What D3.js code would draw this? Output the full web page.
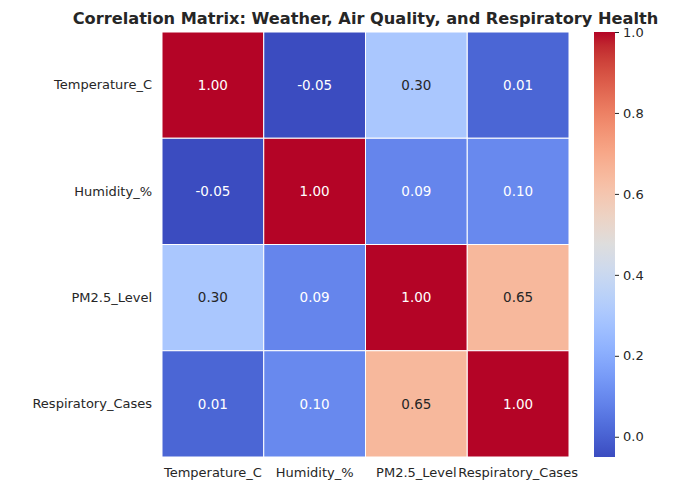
<!DOCTYPE html>
<html>
<head>
<meta charset="utf-8">
<script src="https://cdn.jsdelivr.net/npm/d3@7"></script>
<style>
  body { margin: 0; background: #fff; }
  text { font-family: "DejaVu Sans", sans-serif; fill: #262626; }
</style>
</head>
<body>
<div id="chart"></div>
<script>
// variables shown on both axes
var variables = ["Temperature_C", "Humidity_%", "PM2.5_Level", "Respiratory_Cases"];

// correlation values, one row per variable
var rowTemperature = [1.00, -0.05, 0.30, 0.01];
var rowHumidity = [-0.05, 1.00, 0.09, 0.10];
var rowPM25 = [0.30, 0.09, 1.00, 0.65];
var rowRespiratory = [0.01, 0.10, 0.65, 1.00];
var matrix = [rowTemperature, rowHumidity, rowPM25, rowRespiratory];

var colorbarTicks = [0.0, 0.2, 0.4, 0.6, 0.8, 1.0];

// matplotlib "coolwarm" (Moreland) control points
var coolwarm = [
  [59,76,192],[68,90,204],[77,104,215],[87,117,225],[98,130,234],[108,142,241],
  [119,154,247],[130,165,251],[141,176,254],[152,185,255],[163,194,255],[174,201,253],
  [184,208,249],[194,213,244],[204,217,238],[213,219,230],[221,221,221],[229,216,209],
  [236,211,197],[241,204,185],[245,196,173],[247,187,160],[247,177,148],[247,166,135],
  [244,154,123],[241,141,111],[236,127,99],[229,112,88],[222,96,77],[213,80,66],
  [203,62,56],[192,40,47],[180,4,38]
].map(function (c) { return d3.rgb(c[0], c[1], c[2]); });
var coolwarmInterp = d3.piecewise(d3.interpolateRgb, coolwarm);

var W = 700, H = 483;
var margin = { top: 32, left: 162, right: 131, bottom: 26 };
var width = W - margin.left - margin.right;
var height = H - margin.top - margin.bottom;

var svg = d3.select("#chart").append("svg")
  .attr("width", W)
  .attr("height", H);

var cells = [];
matrix.forEach(function (row, i) {
  row.forEach(function (v, j) {
    cells.push({ row: variables[i], col: variables[j], value: v });
  });
});

var ext = d3.extent(cells, function (d) { return d.value; });
var color = d3.scaleSequential(coolwarmInterp).domain(ext);

var x = d3.scaleBand().domain(variables).range([0, width]);
var y = d3.scaleBand().domain(variables).range([0, height]);

var g = svg.append("g")
  .attr("transform", "translate(" + margin.left + "," + margin.top + ")");

g.selectAll("rect.cell")
  .data(cells)
  .enter()
  .append("rect")
  .attr("class", "cell")
  .attr("x", function (d) { return x(d.col); })
  .attr("y", function (d) { return y(d.row); })
  .attr("width", x.bandwidth())
  .attr("height", y.bandwidth())
  .attr("fill", function (d) { return color(d.value); })
  .attr("stroke", "#fff")
  .attr("stroke-width", 1);

// seaborn picks text colour from the cell luminance
function lum(c) {
  var f = function (v) { v /= 255; return v <= 0.03928 ? v / 12.92 : Math.pow((v + 0.055) / 1.055, 2.4); };
  var r = d3.rgb(c);
  return 0.2126 * f(r.r) + 0.7152 * f(r.g) + 0.0722 * f(r.b);
}

g.selectAll("text.annot")
  .data(cells)
  .enter()
  .append("text")
  .attr("class", "annot")
  .attr("x", function (d) { return x(d.col) + x.bandwidth() / 2; })
  .attr("y", function (d) { return y(d.row) + y.bandwidth() / 2; })
  .attr("text-anchor", "middle")
  .attr("dy", "0.35em")
  .style("font-size", "13.5px")
  .style("fill", function (d) { return lum(color(d.value)) > 0.408 ? "#262626" : "#ffffff"; })
  .text(function (d) { return d.value.toFixed(2); });

// axis labels (no tick marks, like seaborn's whitegrid heatmap)
var xAxis = g.append("g")
  .attr("transform", "translate(0," + height + ")")
  .call(d3.axisBottom(x).tickSize(0).tickPadding(11));
var yAxis = g.append("g")
  .call(d3.axisLeft(y).tickSize(0).tickPadding(10));
[xAxis, yAxis].forEach(function (a) {
  a.select(".domain").remove();
  a.selectAll("text").style("font-size", "13px").style("fill", "#262626")
    .attr("font-family", null);
});

// title
svg.append("text")
  .attr("x", margin.left + width / 2)
  .attr("y", 24)
  .attr("text-anchor", "middle")
  .style("font-size", "16.2px")
  .style("font-weight", "bold")
  .text("Correlation Matrix: Weather, Air Quality, and Respiratory Health");

// colorbar
var cbX = 594, cbW = 21;
var cbScale = d3.scaleLinear().domain(ext).range([margin.top + height, margin.top]);

var defs = svg.append("defs");
var grad = defs.append("linearGradient")
  .attr("id", "cbgrad")
  .attr("x1", "0").attr("y1", "1").attr("x2", "0").attr("y2", "0");
d3.range(0, 1.0001, 1 / 32).forEach(function (t) {
  grad.append("stop")
    .attr("offset", t)
    .attr("stop-color", coolwarmInterp(t));
});

svg.append("rect")
  .attr("x", cbX)
  .attr("y", margin.top)
  .attr("width", cbW)
  .attr("height", height)
  .attr("fill", "url(#cbgrad)");

var cbAxis = svg.append("g")
  .attr("transform", "translate(" + (cbX + cbW) + ",0)")
  .call(d3.axisRight(cbScale).tickValues(colorbarTicks).tickFormat(d3.format(".1f")).tickSize(4).tickPadding(4));
cbAxis.select(".domain").remove();
cbAxis.selectAll("line").attr("stroke", "#262626").attr("stroke-width", 1);
cbAxis.selectAll("text").style("font-size", "13px").style("fill", "#262626")
  .attr("font-family", null);
</script>
</body>
</html>
